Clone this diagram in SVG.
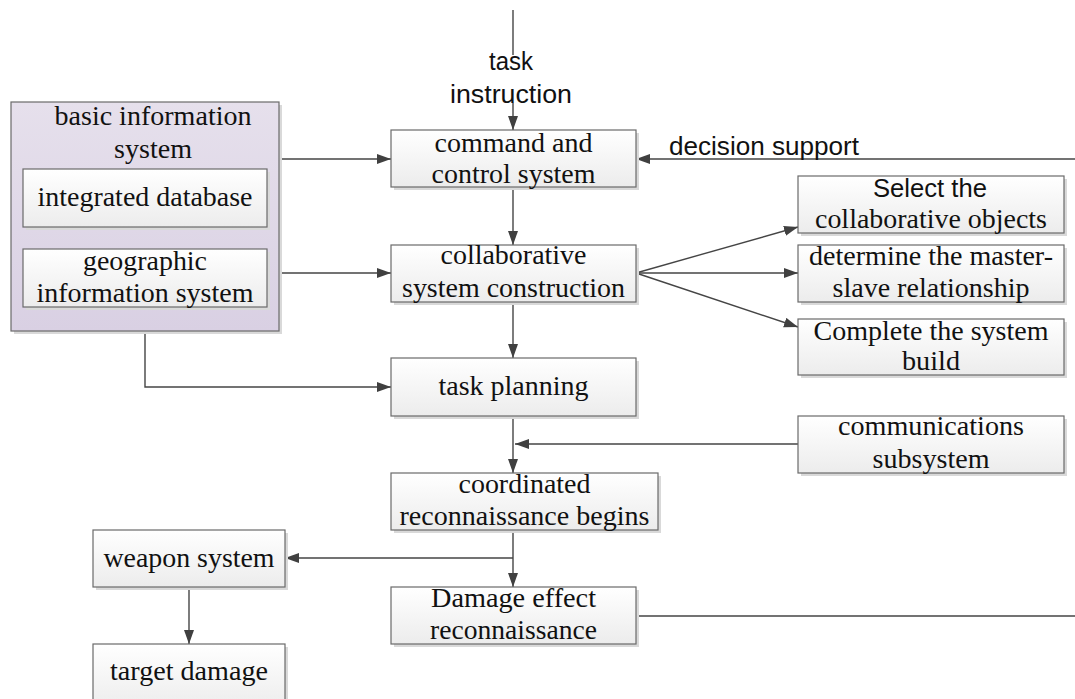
<svg xmlns="http://www.w3.org/2000/svg" width="1075" height="699" viewBox="0 0 1075 699">
<defs>
<linearGradient id="gBox" x1="0" y1="0" x2="0" y2="1">
<stop offset="0" stop-color="#ffffff"/>
<stop offset="1" stop-color="#ececec"/>
</linearGradient>
<linearGradient id="gPurple" x1="0" y1="0" x2="0" y2="1">
<stop offset="0" stop-color="#e6e0ec"/>
<stop offset="1" stop-color="#d9d0e3"/>
</linearGradient>
<marker id="arr" markerUnits="userSpaceOnUse" markerWidth="16" markerHeight="12" refX="14" refY="5" orient="auto">
<path d="M0,0 L14,5 L0,10 z" fill="#404040"/>
</marker>
<style>
.box{fill:url(#gBox);stroke:#6a6a6a;stroke-width:1.2}
.pbox{fill:url(#gPurple);stroke:#6a6a6a;stroke-width:1.2}
.sh{fill:#d9d9d9}
.t{font-family:"Liberation Serif","Times New Roman",serif;font-size:27px;fill:#111;text-anchor:middle}
.s{font-family:"Liberation Sans",Arial,sans-serif;font-size:25px;fill:#111}
.c{fill:none;stroke:#454545;stroke-width:1.4}
</style>
</defs>
<rect width="1075" height="699" fill="#ffffff"/>

<g id="connectors">
<line class="c" x1="513" y1="10" x2="513" y2="55"/>
<line class="c" x1="513" y1="103" x2="513" y2="130" marker-end="url(#arr)"/>
<line class="c" x1="279" y1="159" x2="391" y2="159" marker-end="url(#arr)"/>
<line class="c" x1="279" y1="273" x2="391" y2="273" marker-end="url(#arr)"/>
<polyline class="c" points="145,331 145,387 391,387" marker-end="url(#arr)"/>
<line class="c" x1="1075" y1="159" x2="636" y2="159" marker-end="url(#arr)"/>
<line class="c" x1="513" y1="187" x2="513" y2="245" marker-end="url(#arr)"/>
<line class="c" x1="636" y1="273" x2="798" y2="227" marker-end="url(#arr)"/>
<line class="c" x1="636" y1="273" x2="798" y2="273" marker-end="url(#arr)"/>
<line class="c" x1="636" y1="273" x2="798" y2="327" marker-end="url(#arr)"/>
<line class="c" x1="513" y1="302" x2="513" y2="358" marker-end="url(#arr)"/>
<line class="c" x1="513" y1="416" x2="513" y2="473" marker-end="url(#arr)"/>
<line class="c" x1="798" y1="444" x2="515" y2="444" marker-end="url(#arr)"/>
<line class="c" x1="513" y1="530" x2="513" y2="587" marker-end="url(#arr)"/>
<line class="c" x1="513" y1="558" x2="285" y2="558" marker-end="url(#arr)"/>
<line class="c" x1="189" y1="587" x2="189" y2="644" marker-end="url(#arr)"/>
<line class="c" x1="636" y1="616" x2="1075" y2="616"/>
<text class="s" x="511" y="70" text-anchor="middle" textLength="44" lengthAdjust="spacingAndGlyphs">task</text>
<text class="s" x="511" y="103" text-anchor="middle" textLength="122" lengthAdjust="spacingAndGlyphs">instruction</text>
<text class="s" x="669" y="155" textLength="190" lengthAdjust="spacingAndGlyphs">decision support</text>
</g>

<g id="basic-information-system">
<rect class="sh" x="14" y="105" width="268" height="229"/>
<rect class="pbox" x="11" y="102" width="268" height="229"/>
<text class="t" x="153" y="125" textLength="197" lengthAdjust="spacingAndGlyphs">basic information</text>
<text class="t" x="153" y="158" textLength="78" lengthAdjust="spacingAndGlyphs">system</text>
</g>
<g id="integrated-database">
<rect class="sh" x="26" y="172" width="244" height="58"/>
<rect class="box" x="23" y="169" width="244" height="58"/>
<text class="t" x="145" y="206" textLength="215" lengthAdjust="spacingAndGlyphs">integrated database</text>
</g>
<g id="geographic-information-system">
<rect class="sh" x="26" y="252" width="244" height="58"/>
<rect class="box" x="23" y="249" width="244" height="58"/>
<text class="t" x="145" y="270" textLength="124" lengthAdjust="spacingAndGlyphs">geographic</text>
<text class="t" x="145" y="302" textLength="217" lengthAdjust="spacingAndGlyphs">information system</text>
</g>

<g id="command-control">
<rect class="sh" x="394" y="133" width="245" height="57"/>
<rect class="box" x="391" y="130" width="245" height="57"/>
<text class="t" x="513.5" y="152" textLength="158" lengthAdjust="spacingAndGlyphs">command and</text>
<text class="t" x="513.5" y="183" textLength="164" lengthAdjust="spacingAndGlyphs">control system</text>
</g>
<g id="collaborative-construction">
<rect class="sh" x="394" y="248" width="245" height="57"/>
<rect class="box" x="391" y="245" width="245" height="57"/>
<text class="t" x="513.5" y="264" textLength="146" lengthAdjust="spacingAndGlyphs">collaborative</text>
<text class="t" x="513.5" y="297" textLength="223" lengthAdjust="spacingAndGlyphs">system construction</text>
</g>
<g id="task-planning">
<rect class="sh" x="394" y="361" width="245" height="58"/>
<rect class="box" x="391" y="358" width="245" height="58"/>
<text class="t" x="513.5" y="395" textLength="150" lengthAdjust="spacingAndGlyphs">task planning</text>
</g>
<g id="coordinated-reconnaissance">
<rect class="sh" x="394" y="476" width="267" height="57"/>
<rect class="box" x="391" y="473" width="267" height="57"/>
<text class="t" x="524.5" y="493" textLength="132" lengthAdjust="spacingAndGlyphs">coordinated</text>
<text class="t" x="524.5" y="525" textLength="250" lengthAdjust="spacingAndGlyphs">reconnaissance begins</text>
</g>
<g id="damage-effect">
<rect class="sh" x="394" y="590" width="245" height="57"/>
<rect class="box" x="391" y="587" width="245" height="57"/>
<text class="t" x="513.5" y="607" textLength="165" lengthAdjust="spacingAndGlyphs">Damage effect</text>
<text class="t" x="513.5" y="639" textLength="167" lengthAdjust="spacingAndGlyphs">reconnaissance</text>
</g>
<g id="weapon-system">
<rect class="sh" x="96" y="533" width="192" height="57"/>
<rect class="box" x="93" y="530" width="192" height="57"/>
<text class="t" x="189" y="567" textLength="171" lengthAdjust="spacingAndGlyphs">weapon system</text>
</g>
<g id="target-damage">
<rect class="sh" x="96" y="647" width="192" height="60"/>
<rect class="box" x="93" y="644" width="192" height="66"/>
<text class="t" x="189" y="680" textLength="158" lengthAdjust="spacingAndGlyphs">target damage</text>
</g>
<g id="select-objects">
<rect class="sh" x="801" y="179" width="266" height="57"/>
<rect class="box" x="798" y="176" width="266" height="57"/>
<text class="s" x="930" y="197" text-anchor="middle" textLength="114" lengthAdjust="spacingAndGlyphs">Select the</text>
<text class="t" x="931" y="228" textLength="232" lengthAdjust="spacingAndGlyphs">collaborative objects</text>
</g>
<g id="master-slave">
<rect class="sh" x="801" y="248" width="266" height="57"/>
<rect class="box" x="798" y="245" width="266" height="57"/>
<text class="t" x="931" y="265" textLength="244" lengthAdjust="spacingAndGlyphs">determine the master-</text>
<text class="t" x="931" y="297" textLength="197" lengthAdjust="spacingAndGlyphs">slave relationship</text>
</g>
<g id="complete-build">
<rect class="sh" x="801" y="322" width="266" height="56"/>
<rect class="box" x="798" y="319" width="266" height="56"/>
<text class="t" x="931" y="340" textLength="235" lengthAdjust="spacingAndGlyphs">Complete the system</text>
<text class="t" x="931" y="370" textLength="58" lengthAdjust="spacingAndGlyphs">build</text>
</g>
<g id="communications-subsystem">
<rect class="sh" x="801" y="419" width="266" height="57"/>
<rect class="box" x="798" y="416" width="266" height="57"/>
<text class="t" x="931" y="435" textLength="186" lengthAdjust="spacingAndGlyphs">communications</text>
<text class="t" x="931" y="468" textLength="117" lengthAdjust="spacingAndGlyphs">subsystem</text>
</g>
</svg>
